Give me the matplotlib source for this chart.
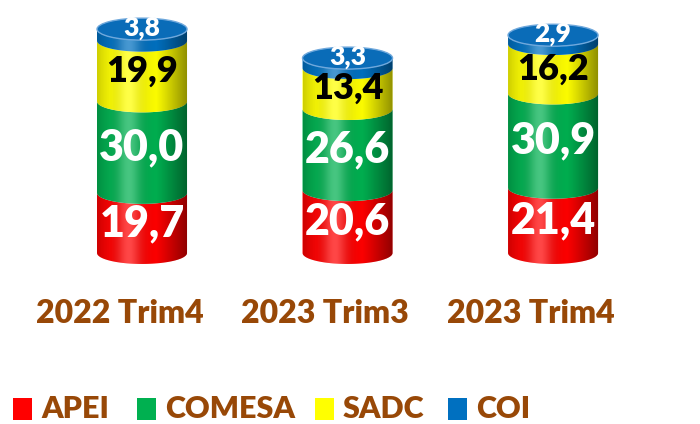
import numpy as np
import matplotlib
matplotlib.use("Agg")
import matplotlib.pyplot as plt
from matplotlib.patches import Polygon, Ellipse, Rectangle

# ---- data ----
categories = ["2022 Trim4", "2023 Trim3", "2023 Trim4"]
series = ["APEI", "COMESA", "SADC", "COI"]
apei = [19.7, 20.6, 21.4]
comesa = [30.0, 26.6, 30.9]
sadc = [19.9, 13.4, 16.2]
coi = [3.8, 3.3, 2.9]
values = [apei, comesa, sadc, coi]

colors = ["#FF0000", "#00B050", "#FFFF00", "#0070C0"]
label_colors = ["white", "white", "black", "white"]
label_sizes = [31, 31, 26, 19]
brown = "#984807"
FONT = "Lato"
WEIGHT = "heavy"

fig = plt.figure(figsize=(7.0, 4.24), dpi=100)
ax = fig.add_axes([0, 0, 1, 1])
ax.axis("off")

hw = 0.219   # half width of cylinder (category units)
eh = 3.6     # half height of ellipse (value units)


def lower_arc(xc, y, n=60):
    t = np.linspace(np.pi, 2 * np.pi, n)
    return np.column_stack([xc + hw * np.cos(t), y + eh * np.sin(t)])


def fmt(v):
    return f"{v:.1f}".replace(".", ",")


# gradient for cylinder shading
g = np.linspace(0, 1, 256)
shade = np.zeros((1, 256, 4))
light = np.exp(-((g - 0.35) / 0.18) ** 2)
dark = np.clip((np.abs(g - 0.4) - 0.25) / 0.35, 0, 1)
shade[0, :, :3] = light[:, None]
shade[0, :, 3] = 0.28 * light + 0.45 * dark

for i, cat in enumerate(categories):
    xc = i
    base = 0.0
    for s in range(len(series)):
        v = values[s][i]
        top = base + v
        pts = np.vstack([lower_arc(xc, base), lower_arc(xc, top)[::-1]])
        ax.add_patch(Polygon(pts, closed=True, facecolor=colors[s],
                             edgecolor="none", zorder=2))
        base = top
    total = base
    body = np.vstack([lower_arc(xc, 0), lower_arc(xc, total)[::-1]])
    clip = Polygon(body, closed=True, facecolor="none", edgecolor="none")
    ax.add_patch(clip)
    im = ax.imshow(shade, extent=[xc - hw, xc + hw, -eh, total],
                   aspect="auto", zorder=3, interpolation="bilinear")
    im.set_clip_path(clip)
    ax.add_patch(Ellipse((xc, total), 2 * hw, 2 * eh, facecolor="#0A6CB8",
                         edgecolor="#6FA8DC", linewidth=1.0, zorder=4))
    base = 0.0
    for s in range(len(series)):
        v = values[s][i]
        y = base + v / 2 if s < len(series) - 1 else total + 0.3
        ax.text(xc, y, fmt(v), ha="center", va="center",
                fontsize=label_sizes[s], fontweight=WEIGHT,
                color=label_colors[s], family=FONT, zorder=6)
        base += v
    ax.text(xc - 0.11, -19.7, cat, ha="center", va="center", fontsize=23,
            fontweight=WEIGHT, color=brown, family=FONT, zorder=6)

ax.set_xlim(-0.691, 2.715)
ax.set_ylim(-56.07, 82.95)

sq_x = [13, 137, 315, 448]
ty = 1 - 409 / 424
for s, name in enumerate(series):
    x0 = sq_x[s] / 700
    fig.patches.append(Rectangle((x0, ty - 11 / 424), 19 / 700, 22 / 424,
                                 transform=fig.transFigure,
                                 facecolor=colors[s], edgecolor="none"))
    fig.text(x0 + 28 / 700, ty, name, ha="left", va="center", fontsize=22,
             fontweight=WEIGHT, color=brown, family=FONT)

fig.savefig("out.png", dpi=100)
